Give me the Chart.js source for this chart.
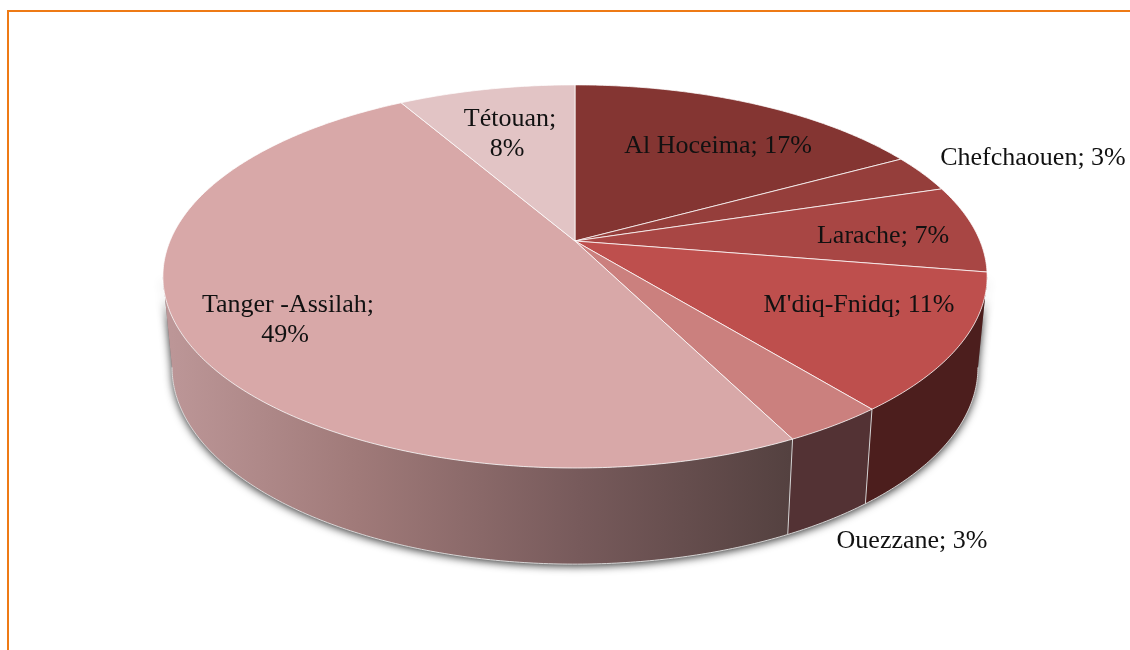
<!DOCTYPE html>
<html lang="fr">
<head>
    <meta charset="UTF-8">
    <title>Répartition par province</title>
    <script src="https://cdn.jsdelivr.net/npm/chart.js"></script>
    <style>
        html, body { margin: 0; background: #fff; overflow: hidden; }
        #cadre { position: absolute; left: 7px; top: 10px; right: -5px; bottom: -5px;
                 border-top: 2px solid #ee7a15; border-left: 2px solid #ee7a15; }
        #graphe { position: absolute; left: 0; top: 0; }
    </style>
</head>
<body>
    <div id="cadre"></div>
    <canvas id="graphe" width="1130" height="650"></canvas>

    <script>
        const categories = ['Al Hoceima', 'Chefchaouen', 'Larache', "M'diq-Fnidq", 'Ouezzane', 'Tanger -Assilah', 'Tétouan'];
        const values = [17.0, 3.2, 7.4, 11.6, 3.4, 49.1, 8.3];
        const percentLabels = ['17%', '3%', '7%', '11%', '3%', '49%', '8%'];
        const topColors = ['#843532', '#953e3b', '#a84644', '#be4f4d', '#cb807e', '#d8a8a8', '#e2c4c5'];
        const sideColors = ['#4c1e1d', '#4c1e1d', '#4c1e1d', '#4c1e1d', '#533234', null, '#e2c4c5'];

        // Label centres, in page pixels. Two-line labels break after the ";"
        const labelPos = [[718, 146], [1033, 158], [883, 236], [859, 305], [912, 541], [288, 305], [510, 119]];
        const twoLines = [5, 6];

        // Perspective of the two disc faces
        const faceTop = { x: 575, y: 241, r: 405, a: 185, k: 0.185 };
        const faceBottom = { x: 575, y: 331, r: 396, a: 190, k: 0.185 };

        // theta is clockwise from the top of the pie
        function project(face, theta, frac) {
            const u = Math.sin(theta) * frac;
            const v = Math.cos(theta) * frac;
            const w = 1 + face.k * v;
            return [face.x + face.r * u / w, face.y - face.a * v / w];
        }

        function arcPoints(face, from, to) {
            const n = Math.max(2, Math.ceil(Math.abs(to - from) / 0.01));
            const pts = [];
            for (let i = 0; i <= n; i++) {
                pts.push(project(face, from + (to - from) * i / n, 1));
            }
            return pts;
        }

        function trace(ctx, pts) {
            pts.forEach((p, i) => i ? ctx.lineTo(p[0], p[1]) : ctx.moveTo(p[0], p[1]));
        }

        // where the wall meets the silhouette of the disc, left and right
        const SIDE_FROM = Math.acos(-faceTop.k);
        const SIDE_TO = 2 * Math.PI - SIDE_FROM;

        function sidePath(ctx, a, b) {
            ctx.beginPath();
            trace(ctx, arcPoints(faceTop, a, b));
            arcPoints(faceBottom, b, a).forEach(p => ctx.lineTo(p[0], p[1]));
            ctx.closePath();
        }

        const pie3d = {
            id: 'pie3d',
            // the library computed the arc angles, this plugin only changes how they are projected
            beforeDatasetsDraw(chart) {
                const ctx = chart.ctx;
                const arcs = chart.getDatasetMeta(0).data.map(el => ({
                    a: el.startAngle + Math.PI / 2,
                    b: el.endAngle + Math.PI / 2,
                    color: el.options.backgroundColor
                }));

                // shadow under the whole side wall
                ctx.save();
                ctx.shadowColor = 'rgba(0,0,0,0.8)';
                ctx.shadowBlur = 9;
                ctx.shadowOffsetY = 2;
                ctx.fillStyle = '#777';
                sidePath(ctx, SIDE_FROM, SIDE_TO);
                ctx.fill();
                ctx.restore();

                const grad = ctx.createLinearGradient(172, 0, 790, 0);
                grad.addColorStop(0, '#bc9697');
                grad.addColorStop(0.3, '#a07a79');
                grad.addColorStop(0.66, '#775a5b');
                grad.addColorStop(1, '#544140');

                // side wall, slice by slice
                arcs.forEach((arc, i) => {
                    const a = Math.max(arc.a, SIDE_FROM);
                    const b = Math.min(arc.b, SIDE_TO);
                    if (b <= a) return;
                    ctx.fillStyle = sideColors[i] || grad;
                    sidePath(ctx, a, b);
                    ctx.fill();
                });

                // lower rim and vertical seams
                ctx.strokeStyle = 'rgba(225,225,225,0.9)';
                ctx.lineWidth = 1;
                ctx.beginPath();
                trace(ctx, arcPoints(faceBottom, SIDE_FROM, SIDE_TO));
                ctx.stroke();
                arcs.forEach(arc => {
                    if (arc.a <= SIDE_FROM || arc.a >= SIDE_TO) return;
                    const p = project(faceTop, arc.a, 1);
                    const q = project(faceBottom, arc.a, 1);
                    ctx.beginPath();
                    ctx.moveTo(p[0], p[1]);
                    ctx.lineTo(q[0], q[1]);
                    ctx.stroke();
                });

                // top face
                arcs.forEach(arc => {
                    ctx.beginPath();
                    ctx.moveTo(faceTop.x, faceTop.y);
                    arcPoints(faceTop, arc.a, arc.b).forEach(p => ctx.lineTo(p[0], p[1]));
                    ctx.closePath();
                    ctx.fillStyle = arc.color;
                    ctx.fill();
                    ctx.strokeStyle = 'rgba(255,255,255,0.75)';
                    ctx.lineWidth = 1;
                    ctx.stroke();
                });

                return false;
            },
            afterDraw(chart) {
                const ctx = chart.ctx;
                ctx.save();
                ctx.fillStyle = '#111';
                ctx.font = '26px "Liberation Serif", serif';
                ctx.textAlign = 'center';
                ctx.textBaseline = 'middle';
                categories.forEach((name, i) => {
                    const [x, y] = labelPos[i];
                    if (twoLines.includes(i)) {
                        ctx.fillText(name + ';', x, y);
                        ctx.fillText(percentLabels[i], x - 3, y + 30);
                    } else {
                        ctx.fillText(name + '; ' + percentLabels[i], x, y);
                    }
                });
                ctx.restore();
            }
        };

        new Chart(document.getElementById('graphe').getContext('2d'), {
            type: 'pie',
            data: {
                labels: categories,
                datasets: [{ data: values, backgroundColor: topColors }]
            },
            options: {
                responsive: false,
                animation: false,
                plugins: { legend: { display: false }, tooltip: { enabled: false } }
            },
            plugins: [pie3d]
        });
    </script>
</body>
</html>
